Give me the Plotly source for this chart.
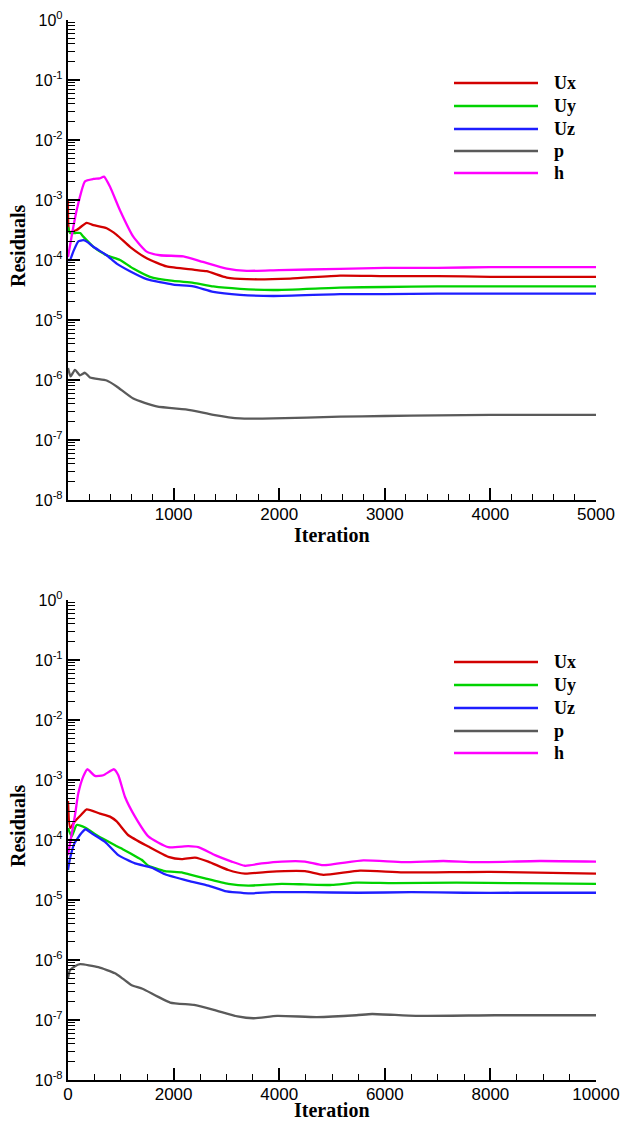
import plotly.graph_objects as go

W, H = 621, 1123

# ---------------- Case 1: 5000 iterations ----------------
it1_ux = [0, 15, 82, 177, 240, 366, 461, 587, 745, 934, 1187, 1313, 1503, 1692, 2103, 2576, 3000, 3500, 4000, 4500, 5000]
res1_ux = [1.0e-3, 2.95e-4, 3.16e-4, 4.17e-4, 3.80e-4, 3.39e-4, 2.63e-4, 1.66e-4, 1.07e-4, 7.8e-5, 6.9e-5,
           6.5e-5, 5.1e-5, 4.8e-5, 4.9e-5, 5.5e-5, 5.4e-5, 5.4e-5, 5.25e-5, 5.25e-5, 5.25e-5]

it1_uy = [0, 20, 70, 115, 145, 240, 366, 492, 618, 776, 997, 1187, 1376, 1629, 1944, 2576, 3000, 3500, 4000, 4500, 5000]
res1_uy = [3.55e-4, 2.82e-4, 2.82e-4, 2.82e-4, 2.45e-4, 1.66e-4, 1.20e-4, 1.0e-4, 7.2e-5, 5.25e-5, 4.47e-5,
           4.17e-5, 3.63e-5, 3.31e-5, 3.16e-5, 3.47e-5, 3.55e-5, 3.63e-5, 3.63e-5, 3.63e-5, 3.63e-5]

it1_uz = [0, 19, 50, 98, 145, 192, 240, 366, 461, 587, 745, 997, 1187, 1376, 1629, 1944, 2576, 3000, 3500, 4000, 4500, 5000]
res1_uz = [1.0e-4, 1.0e-4, 1.38e-4, 2.04e-4, 2.14e-4, 1.95e-4, 1.66e-4, 1.20e-4, 8.7e-5, 6.5e-5, 4.8e-5,
           3.9e-5, 3.63e-5, 2.95e-5, 2.63e-5, 2.51e-5, 2.69e-5, 2.69e-5, 2.75e-5, 2.75e-5, 2.75e-5, 2.75e-5]

it1_p = [0, 25, 66, 113, 161, 208, 366, 461, 618, 839, 1155, 1376, 1629, 1944, 2576, 3000, 3500, 4000, 4500, 5000]
res1_p = [1.58e-6, 1.15e-6, 1.48e-6, 1.20e-6, 1.32e-6, 1.10e-6, 9.8e-7, 7.8e-7, 4.9e-7, 3.63e-7, 3.16e-7,
          2.63e-7, 2.29e-7, 2.29e-7, 2.45e-7, 2.51e-7, 2.57e-7, 2.63e-7, 2.63e-7, 2.63e-7]

it1_h = [0, 40, 82, 161, 240, 300, 341, 398, 492, 618, 745, 871, 1092, 1278, 1503, 1692, 2000, 2576, 3000,
         3500, 4000, 4500, 5000]
res1_h = [1.12e-4, 2.82e-4, 6.76e-4, 2.04e-3, 2.24e-3, 2.29e-3, 2.45e-3, 1.66e-3, 6.76e-4, 2.45e-4, 1.38e-4,
          1.20e-4, 1.15e-4, 9.3e-5, 7.2e-5, 6.6e-5, 6.8e-5, 7.1e-5, 7.4e-5, 7.4e-5, 7.6e-5, 7.6e-5, 7.6e-5]

# ---------------- Case 2: 10000 iterations ----------------
it2_ux = [0, 40, 120, 250, 354, 606, 795, 922, 1143, 1521, 1900, 2153, 2405, 2658, 3036, 3352, 3794, 4489,
          4836, 5530, 6350, 7992, 10000]
res2_ux = [4.47e-4, 1.58e-4, 2.0e-4, 2.63e-4, 3.24e-4, 2.75e-4, 2.45e-4, 2.04e-4, 1.20e-4, 7.8e-5, 5.25e-5,
           4.8e-5, 5.1e-5, 4.37e-5, 3.16e-5, 2.75e-5, 2.95e-5, 3.02e-5, 2.63e-5, 3.09e-5, 2.88e-5, 2.95e-5, 2.75e-5]

it2_uy = [0, 70, 164, 322, 575, 1016, 1395, 1521, 1648, 1837, 2153, 2279, 2595, 3036, 3415, 4047, 4489, 5000,
          5467, 6160, 7360, 8500, 10000]
res2_uy = [1.58e-4, 1.15e-4, 1.78e-4, 1.62e-4, 1.15e-4, 7.2e-5, 4.68e-5, 3.72e-5, 3.39e-5, 3.02e-5, 2.88e-5,
           2.69e-5, 2.29e-5, 1.86e-5, 1.74e-5, 1.86e-5, 1.82e-5, 1.78e-5, 1.95e-5, 1.91e-5, 1.95e-5, 1.91e-5, 1.86e-5]

it2_uz = [0, 38, 120, 259, 335, 448, 701, 953, 1269, 1585, 1837, 2279, 2658, 2973, 3415, 3857, 4489, 5500,
          6500, 7500, 8500, 10000]
res2_uz = [3.16e-5, 4.9e-5, 8.7e-5, 1.32e-4, 1.51e-4, 1.29e-4, 9.3e-5, 5.6e-5, 4.07e-5, 3.47e-5, 2.69e-5,
           2.09e-5, 1.74e-5, 1.41e-5, 1.29e-5, 1.35e-5, 1.35e-5, 1.32e-5, 1.35e-5, 1.32e-5, 1.32e-5, 1.32e-5]

it2_p = [0, 38, 133, 227, 575, 890, 1035, 1206, 1410, 1935, 2386, 2761, 3211, 3511, 3961, 4711, 5461, 5761,
         6587, 8087, 10000]
res2_p = [5.0e-7, 6.8e-7, 7.9e-7, 8.5e-7, 7.6e-7, 6.0e-7, 4.9e-7, 3.8e-7, 3.31e-7, 1.95e-7, 1.78e-7, 1.48e-7,
          1.15e-7, 1.07e-7, 1.17e-7, 1.12e-7, 1.20e-7, 1.26e-7, 1.17e-7, 1.20e-7, 1.20e-7]

it2_h = [0, 60, 130, 195, 290, 366, 511, 669, 871, 953, 1080, 1269, 1521, 1900, 2279, 2468, 2784, 3100, 3352,
         3668, 4047, 4489, 4836, 5593, 6350, 7108, 7739, 8937, 10000]
res2_h = [5.6e-5, 1.12e-4, 2.51e-4, 6.0e-4, 1.15e-3, 1.51e-3, 1.17e-3, 1.20e-3, 1.51e-3, 1.20e-3, 5.2e-4,
          2.45e-4, 1.15e-4, 7.6e-5, 7.9e-5, 7.6e-5, 5.6e-5, 4.37e-5, 3.72e-5, 4.07e-5, 4.37e-5, 4.37e-5, 3.8e-5,
          4.57e-5, 4.27e-5, 4.47e-5, 4.27e-5, 4.47e-5, 4.37e-5]

series_names = ["Ux", "Uy", "Uz", "p", "h"]
series_colors = ["#d20000", "#00d200", "#1e1eff", "#5a5a5a", "#ff00ff"]

case1 = [(it1_ux, res1_ux), (it1_uy, res1_uy), (it1_uz, res1_uz), (it1_p, res1_p), (it1_h, res1_h)]
case2 = [(it2_ux, res2_ux), (it2_uy, res2_uy), (it2_uz, res2_uz), (it2_p, res2_p), (it2_h, res2_h)]

decades = list(range(-8, 1))
y_tickvals = [10.0 ** k for k in decades]
y_ticktext = ["10<sup>%d</sup>" % k for k in decades]
y_minor = [m * 10.0 ** k for k in range(-8, 0) for m in range(2, 10)]

x1_ticks = [1000, 2000, 3000, 4000, 5000]
x2_ticks = [0, 2000, 4000, 6000, 8000, 10000]

SANS = "Liberation Sans, Arial, sans-serif"
SERIF = "Liberation Serif, Times New Roman, serif"


def fx(p):
    return p / W


def fy(p):
    return 1 - p / H


fig = go.Figure()

for case, xa, ya in [(case1, "x", "y"), (case2, "x2", "y2")]:
    for (its, vals), name, col in zip(case, series_names, series_colors):
        fig.add_trace(go.Scatter(
            x=its, y=vals, mode="lines", name=name, xaxis=xa, yaxis=ya,
            line=dict(color=col, width=2.3, shape="spline", smoothing=0.5),
            showlegend=False,
        ))

x_left, x_right = fx(68), fx(596)
panels = [(20, 500), (600, 1080)]
title_offsets = [35, 30]

common_y = dict(
    type="log", range=[-8, 0], tickmode="array", tickvals=y_tickvals, ticktext=y_ticktext,
    ticks="inside", ticklen=12, tickwidth=2.4, tickcolor="black", automargin=False,
    showline=True, linecolor="black", linewidth=2.4, showgrid=False, zeroline=False,
    tickfont=dict(family=SANS, size=16, color="black"),
    minor=dict(tickmode="array", tickvals=y_minor, ticks="inside", ticklen=7, tickwidth=1.2, tickcolor="black",
               showgrid=False),
)
common_x = dict(
    ticks="inside", ticklen=12, tickwidth=2.4, tickcolor="black", automargin=False,
    showline=True, linecolor="black", linewidth=2.4, showgrid=False, zeroline=False,
    tickfont=dict(family=SANS, size=17, color="black"), ticklabelstandoff=-3,
)

fig.update_layout(
    width=W, height=H, margin=dict(l=0, r=0, t=0, b=0, autoexpand=False),
    paper_bgcolor="white", plot_bgcolor="white", showlegend=False,
    xaxis=dict(common_x, domain=[x_left, x_right], range=[0, 5000], anchor="y",
               tickmode="array", tickvals=x1_ticks, ticktext=[str(v) for v in x1_ticks],
               minor=dict(tickmode="array", tickvals=[v for v in range(200, 5000, 200) if v % 1000],
                          ticks="inside", ticklen=6, tickwidth=1.2, tickcolor="black", showgrid=False)),
    yaxis=dict(common_y, domain=[fy(panels[0][1]), fy(panels[0][0])], anchor="x"),
    xaxis2=dict(common_x, domain=[x_left, x_right], range=[0, 10000], anchor="y2",
                tickmode="array", tickvals=x2_ticks, ticktext=[str(v) for v in x2_ticks],
                minor=dict(tickmode="array", tickvals=[v for v in range(500, 10000, 500) if v % 2000],
                           ticks="inside", ticklen=6, tickwidth=1.2, tickcolor="black", showgrid=False)),
    yaxis2=dict(common_y, domain=[fy(panels[1][1]), fy(panels[1][0])], anchor="x2"),
)

# Axis titles
for (top, bottom), off in zip(panels, title_offsets):
    fig.add_annotation(text="<b>Residuals</b>", textangle=-90, xref="paper", yref="paper",
                       x=fx(18), y=fy((top + bottom) / 2 - 14), xanchor="center", yanchor="middle",
                       showarrow=False, font=dict(family=SERIF, size=20, color="black"))
    fig.add_annotation(text="<b>Iteration</b>", xref="paper", yref="paper",
                       x=fx(332), y=fy(bottom + off), xanchor="center", yanchor="middle",
                       showarrow=False, font=dict(family=SERIF, size=20, color="black"))

# Legend block drawn in each panel
legend_rows = [[83, 106, 129, 151, 173], [662, 685, 708, 731, 753]]
for rows in legend_rows:
    for ry, name, col in zip(rows, series_names, series_colors):
        fig.add_shape(type="line", xref="paper", yref="paper",
                      x0=fx(454), x1=fx(538), y0=fy(ry), y1=fy(ry),
                      line=dict(color=col, width=2.3))
        fig.add_annotation(text="<b>%s</b>" % name, xref="paper", yref="paper",
                           x=fx(552), y=fy(ry), xanchor="left", yanchor="middle", showarrow=False,
                           font=dict(family=SERIF, size=18, color="black"))

fig.write_html("out.html")
